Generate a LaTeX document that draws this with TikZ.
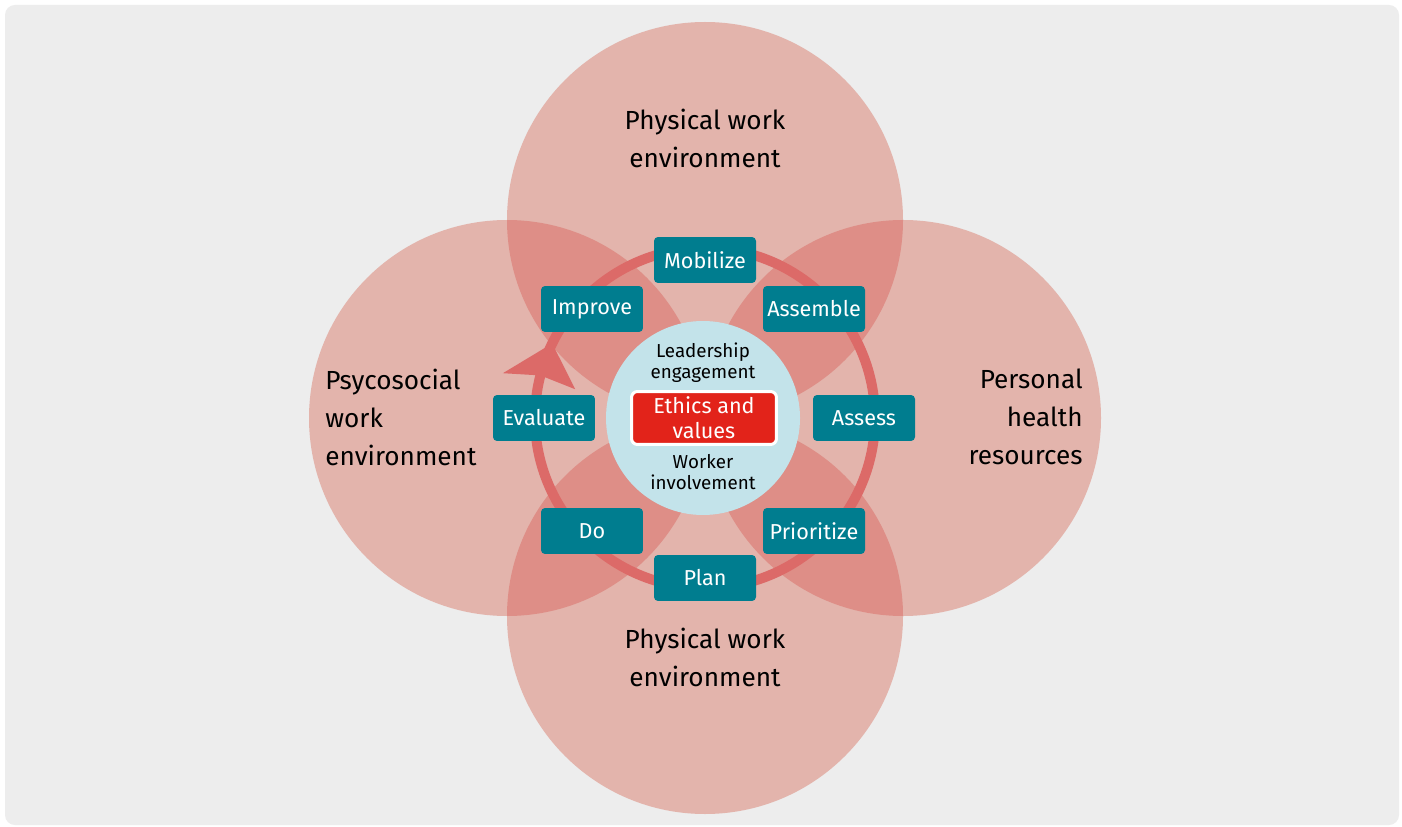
\documentclass[tikz,border=0pt]{standalone}
\usepackage{fontspec}
\usetikzlibrary{calc}
\setmainfont{Fira Sans}
\setsansfont{Fira Sans}
\definecolor{bgc}{HTML}{EDEDED}
\definecolor{petal}{HTML}{E3B4AC}
\definecolor{lens}{HTML}{DE8E87}
\definecolor{ringc}{HTML}{DC6A68}
\definecolor{teal}{HTML}{007D8F}
\definecolor{hub}{HTML}{C3E3EA}
\definecolor{ethred}{HTML}{E2231A}
\tikzset{
  stage/.style={fill=teal, rounded corners=0.08cm, minimum width=2.04cm, minimum height=0.92cm,
    text=white, inner sep=0pt, font=\fontsize{12.3}{14}\selectfont},
  biglabel/.style={text=black, inner sep=0pt, font=\fontsize{14.9}{21.6}\selectfont},
  hubtext/.style={text=black, inner sep=0pt, align=center, font=\fontsize{10.7}{11.95}\selectfont},
}
\begin{document}
\begin{tikzpicture}[x=0.02cm,y=-0.02cm]
\useasboundingbox (0,0) rectangle (1402,827);
\fill[white] (0,0) rectangle (1402,827);
\fill[bgc, rounded corners=0.2cm] (5,5) rectangle (1399,825);
% centres
\coordinate (C) at (705,418);
\coordinate (ct) at (705,220);
\coordinate (cb) at (705,616);
\coordinate (cl) at (507,418);
\coordinate (cr) at (903,418);
% circles
\foreach \c in {ct,cb,cl,cr} \fill[petal] (\c) circle (198);
% lenses
\begin{scope}\clip (ct) circle (198); \fill[lens] (cl) circle (198); \end{scope}
\begin{scope}\clip (ct) circle (198); \fill[lens] (cr) circle (198); \end{scope}
\begin{scope}\clip (cb) circle (198); \fill[lens] (cl) circle (198); \end{scope}
\begin{scope}\clip (cb) circle (198); \fill[lens] (cr) circle (198); \end{scope}
% ring
\draw[ringc, line width=0.2cm] (C) circle (170);
% arrow head
\fill[ringc] ($(C)+(206:170)$) -- ($(C)+(192.5:207)$) -- ($(C)+(194.5:170)$) -- ($(C)+(192.5:133)$) -- cycle;
% hub
\fill[hub] (703,418) circle (97);
\node[hubtext] (lead) at (703,363) {Leadership\\engagement};
\node[hubtext] (work) at (703,472) {Worker\\involvement};
\node[fill=ethred, draw=white, line width=0.06cm, rounded corners=0.12cm, minimum width=2.9cm, minimum height=1.06cm,
  inner sep=0pt, text=white, align=center, font=\fontsize{12.3}{14.2}\selectfont] (eth) at (704,418) {Ethics and\\values};
% stages
\node[stage] (mob) at (705,260) {Mobilize};
\node[stage] (ass) at (814,309) {Assemble};
\node[stage] (asse) at (864,418) {Assess};
\node[stage] (pri) at (814,531) {Prioritize};
\node[stage] (plan) at (705,578) {Plan};
\node[stage] (do) at (592,531) {Do};
\node[stage] (eva) at (544,418) {Evaluate};
\node[stage] (imp) at (592,309) {Improve};
% labels
\node[biglabel, align=center] (top) at (705,138) {Physical work\\environment};
\node[biglabel, align=center] (bot) at (705,657) {Physical work\\environment};
\node[biglabel, align=left, anchor=west] (left) at (325,417) {Psycosocial\\work\\environment};
\node[biglabel, align=right, anchor=east] (right) at (1083,417) {Personal\\health\\resources};
\end{tikzpicture}
\end{document}
